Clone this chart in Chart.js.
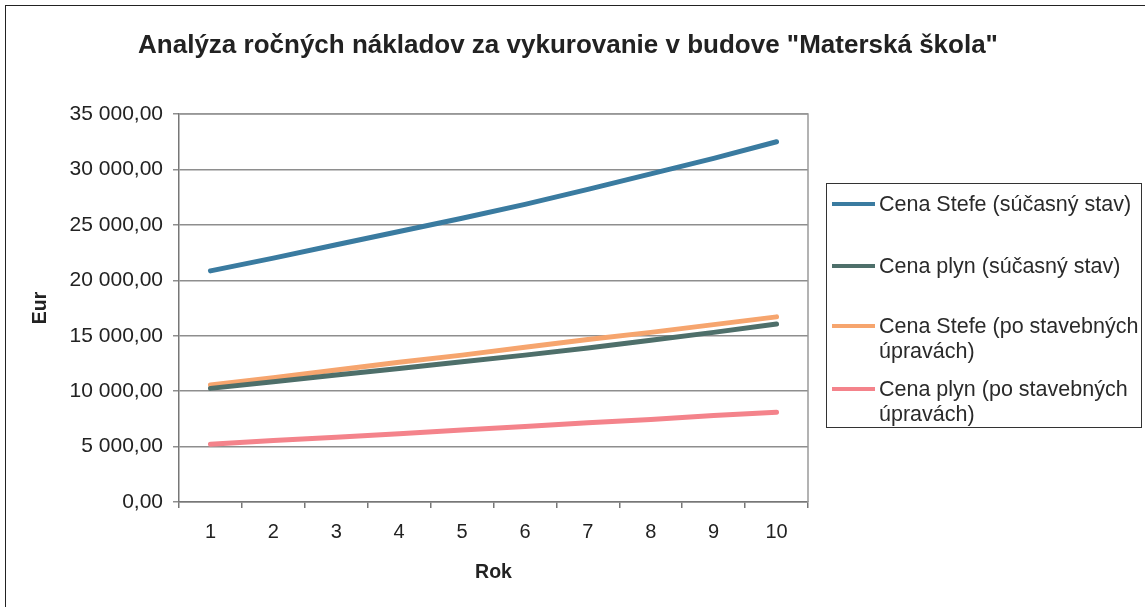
<!DOCTYPE html>
<html>
<head>
<meta charset="utf-8">
<script src="https://cdn.jsdelivr.net/npm/chart.js@4/dist/chart.umd.min.js"></script>
<style>
  html,body{margin:0;padding:0;background:#fff;}
  #wrap{position:relative;width:1145px;height:607px;overflow:hidden;}
  #frame{position:absolute;left:5px;top:5px;width:1150px;height:610px;border-left:1.5px solid #222;border-top:1.5px solid #222;}
  canvas{position:absolute;left:0;top:0;}
  #legend{position:absolute;left:826px;top:183px;width:316px;height:245px;border:1.5px solid #333;box-sizing:border-box;
    font-family:"Liberation Sans",Arial,sans-serif;font-size:21.5px;color:#2a2a2a;}
  .item{position:absolute;left:5px;display:flex;align-items:flex-start;line-height:25px;white-space:nowrap;}
  .sw{width:43px;height:4px;margin-top:10px;margin-right:4px;flex:none;}
</style>
</head>
<body>
<div id="wrap">
  <div id="frame"></div>
  <canvas id="c" width="1145" height="607"></canvas>
  <div id="legend"></div>
</div>
<script>
const categories = ['1','2','3','4','5','6','7','8','9','10'];
const chartTitle = 'Analýza ročných nákladov za vykurovanie v budove "Materská škola"';
const seriesNames = ['Cena Stefe (súčasný stav)','Cena plyn (súčasný stav)','Cena Stefe (po stavebných úpravách)','Cena plyn (po stavebných úpravách)'];
const legendLines = [['Cena Stefe (súčasný stav)'],['Cena plyn (súčasný stav)'],['Cena Stefe (po stavebných','úpravách)'],['Cena plyn (po stavebných','úpravách)']];
const stefeNow = [20850, 22000, 23200, 24400, 25600, 26850, 28200, 29600, 31000, 32500];
const plynNow = [10250, 10850, 11450, 12050, 12650, 13250, 13900, 14600, 15300, 16050];
const stefeAfter = [10550, 11200, 11900, 12600, 13250, 13950, 14650, 15300, 16000, 16700];
const plynAfter = [5200, 5550, 5850, 6150, 6500, 6800, 7150, 7450, 7800, 8100];
const colors = ['#3a7ba0','#4e6f6a','#f6a56e','#f4838b'];
const yTicks = [0,5000,10000,15000,20000,25000,30000,35000];

function fmt(v){
  const s = Math.round(v).toString().replace(/\B(?=(\d{3})+(?!\d))/g,' ');
  return s + ',00';
}

const FONT = '"Liberation Sans", Arial, sans-serif';
const borderPlugin = {
  id:'areaBorder',
  afterDraw(chart){
    const {ctx, chartArea:a} = chart;
    ctx.save();
    ctx.strokeStyle = '#9a9a9a';
    ctx.lineWidth = 1.5;
    ctx.beginPath();
    ctx.moveTo(a.left, a.top); ctx.lineTo(a.right, a.top); ctx.lineTo(a.right, a.bottom);
    ctx.stroke();
    ctx.fillStyle = '#222';
    ctx.font = 'bold 26px ' + FONT;
    ctx.textAlign = 'center';
    ctx.textBaseline = 'middle';
    ctx.fillText(chartTitle, 568, 46);
    ctx.restore();
  }
};

const datasets = [stefeNow, plynNow, stefeAfter, plynAfter].map((d,i)=>({
  label: seriesNames[i],
  data: d,
  borderColor: colors[i],
  backgroundColor: colors[i],
  borderWidth: 5,
  pointRadius: 0,
  tension: 0,
  fill: false,
  borderCapStyle: 'round'
}));
datasets[2].order = 2; datasets[1].order = 1; datasets[0].order = 0; datasets[3].order = 0;

new Chart(document.getElementById('c'), {
  type: 'line',
  data: { labels: categories, datasets },
  plugins: [borderPlugin],
  options: {
    responsive: false,
    animation: false,
    devicePixelRatio: 1,
    layout: { padding: { top: 114, right: 337, bottom: 0, left: 0 } },
    plugins: {
      legend: { display: false },
      tooltip: { enabled: false },
      title: { display: false }
    },
    scales: {
      x: {
        type: 'category',
        offset: true,
        grid: { offset: true, drawOnChartArea: false, drawTicks: true, tickLength: 6, color: '#777', lineWidth: 1.5 },
        border: { color: '#777', width: 1.5 },
        ticks: { color: '#222', font: { family: FONT, size: 20 }, padding: 12, maxRotation: 0 },
        title: { display: true, text: 'Rok', color: '#222', font: { family: FONT, size: 19.5, weight: 'bold' }, padding: { top: 0, bottom: 23 } },
        afterFit(s){ s.height = 105; }
      },
      y: {
        min: 0, max: 35000,
        afterBuildTicks(s){ s.ticks = yTicks.map(v=>({value:v})); },
        grid: { color: '#8e8e8e', lineWidth: 1.5, drawTicks: true, tickLength: 6 },
        border: { color: '#777', width: 1.5 },
        ticks: { color: '#222', font: { family: FONT, size: 21 }, padding: 10, callback: v => fmt(v) },
        title: { display: true, text: 'Eur', color: '#222', font: { family: FONT, size: 19.5, weight: 'bold' }, padding: { top: 29, bottom: 0 } },
        afterFit(s){ s.width = 179; }
      }
    }
  }
});

const lg = document.getElementById('legend');
const tops = [8, 70, 130, 193];
legendLines.forEach((lines,i)=>{
  const it = document.createElement('div');
  it.className = 'item';
  it.style.top = tops[i] + 'px';
  const sw = document.createElement('div');
  sw.className = 'sw';
  sw.style.background = colors[i];
  it.appendChild(sw);
  const t = document.createElement('div');
  t.innerHTML = lines.join('<br>');
  it.appendChild(t);
  lg.appendChild(it);
});
</script>
</body>
</html>
